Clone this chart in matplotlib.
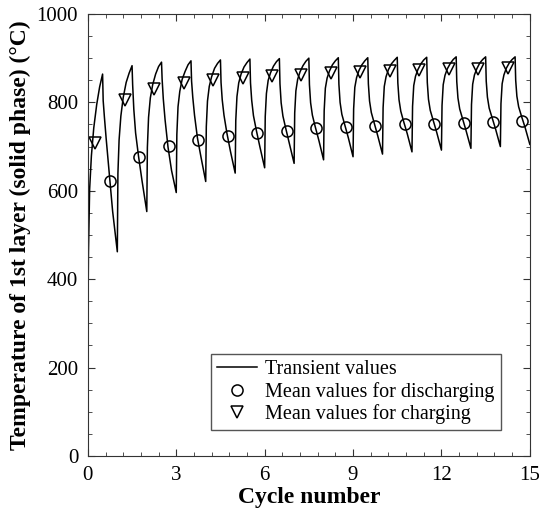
import matplotlib
matplotlib.use("Agg")
import matplotlib.pyplot as plt
from matplotlib.ticker import MultipleLocator
import numpy as np

# phase positions inside one cycle (charging 0-0.5, discharging 0.5-1)
phase = [0, 0.02, 0.06, 0.12, 0.2, 0.3, 0.4, 0.5, 0.52, 0.56, 0.62, 0.72, 0.84]

# transient temperature, one row per cycle
cyc0 = [280, 459, 603, 679, 742, 795, 835, 864, 804, 768, 719, 643, 554]
cyc1 = [462, 639, 715, 769, 811, 845, 866, 883, 840, 784, 731, 678, 622]
cyc2 = [553, 698, 766, 810, 840, 864, 881, 891, 853, 808, 761, 699, 646]
cyc3 = [596, 727, 790, 825, 852, 870, 885, 894, 848, 812, 771, 719, 676]
cyc4 = [621, 745, 803, 836, 858, 877, 888, 896, 845, 806, 771, 730, 689]
cyc5 = [640, 759, 813, 844, 864, 880, 890, 898, 844, 805, 770, 736, 699]
cyc6 = [652, 768, 820, 850, 867, 882, 892, 899, 842, 799, 769, 740, 707]
cyc7 = [662, 776, 826, 852, 869, 883, 893, 900, 840, 799, 771, 744, 714]
cyc8 = [670, 781, 832, 855, 871, 885, 894, 901, 841, 800, 773, 749, 720]
cyc9 = [677, 785, 834, 856, 872, 885, 894, 901, 842, 803, 777, 753, 724]
cyc10 = [683, 788, 836, 858, 874, 887, 895, 902, 844, 806, 780, 756, 729]
cyc11 = [688, 791, 838, 859, 874, 887, 896, 902, 845, 807, 782, 759, 732]
cyc12 = [692, 793, 840, 861, 876, 888, 897, 903, 847, 810, 785, 762, 735]
cyc13 = [696, 795, 841, 862, 876, 889, 897, 903, 848, 812, 787, 765, 739]
cyc14 = [700, 797, 842, 862, 877, 889, 897, 903, 850, 814, 790, 768, 743]
end_T = 705

# mean values
dis_x = [0.75, 1.75, 2.75, 3.75, 4.75, 5.75, 6.75, 7.75, 8.75, 9.75, 10.75, 11.75, 12.75, 13.75, 14.75]
dis_T = [623, 677, 701, 715, 725, 731, 736, 741, 745, 747, 750, 752, 753, 755, 757]
chg_x = [0.25, 1.25, 2.25, 3.25, 4.25, 5.25, 6.25, 7.25, 8.25, 9.25, 10.25, 11.25, 12.25, 13.25, 14.25]
chg_T = [709, 805, 830, 843, 851, 856, 860, 862, 866, 868, 870, 873, 875, 876, 877]

cycles = [cyc0, cyc1, cyc2, cyc3, cyc4, cyc5, cyc6, cyc7, cyc8, cyc9,
          cyc10, cyc11, cyc12, cyc13, cyc14]
tx = []
ty = []
for n, row in enumerate(cycles):
    tx += [n + p for p in phase]
    ty += row
tx.append(len(cycles))
ty.append(end_T)

plt.rcParams['font.family'] = ['Liberation Serif', 'DejaVu Serif']

fig = plt.figure(figsize=(5.39, 5.17), dpi=100)
ax = fig.add_axes([0.163, 0.118, 0.820, 0.855])

ax.plot(tx, ty, color='black', lw=1.1, label='Transient values')
ax.plot(dis_x, dis_T, 'o', ms=8, mfc='none', mec='black', mew=1.1,
        label='Mean values for discharging')
ax.plot(chg_x, chg_T, 'v', ms=9, mfc='none', mec='black', mew=1.1,
        label='Mean values for charging')

ax.set_xlim(0, 15)
ax.set_ylim(0, 1000)
ax.xaxis.set_major_locator(MultipleLocator(3))
ax.xaxis.set_minor_locator(MultipleLocator(0.6))
ax.yaxis.set_major_locator(MultipleLocator(200))
ax.yaxis.set_minor_locator(MultipleLocator(50))
ax.tick_params(which='both', direction='in', top=True, right=True,
               labelsize=15, color='#333333')
ax.tick_params(which='major', length=5, pad=7)
ax.tick_params(which='minor', length=3)
for s in ax.spines.values():
    s.set_color('#333333')

ax.set_xlabel('Cycle number', fontsize=17, fontweight='bold', labelpad=2)
ax.set_ylabel('Temperature of 1st layer (solid phase) (°C)', fontsize=17,
              fontweight='bold', labelpad=4)

leg = ax.legend(loc='lower right', bbox_to_anchor=(0.934, 0.059), fontsize=14.5,
                fancybox=False, edgecolor='#555555', framealpha=1,
                handlelength=2.0, labelspacing=0.12, borderpad=0.3,
                handletextpad=0.4, borderaxespad=0)
leg.get_frame().set_linewidth(1)

fig.savefig('out.png', dpi=100)
